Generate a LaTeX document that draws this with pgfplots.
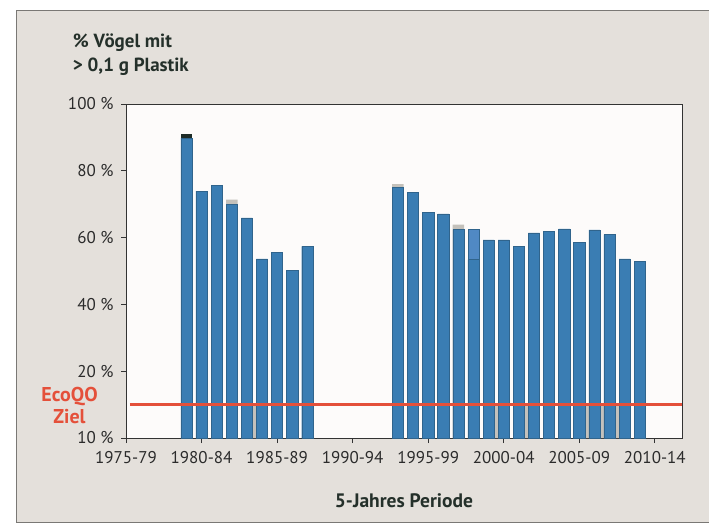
\documentclass[border=0pt]{standalone}
\usepackage{pgfplots}
\pgfplotsset{compat=1.18}
\usepackage{fontspec}
\setmainfont{PT Sans}
\definecolor{framebg}{HTML}{E4E0DB}
\definecolor{framebd}{HTML}{7A7875}
\definecolor{plotbg}{HTML}{FDFBFA}
\definecolor{barblue}{HTML}{3A7DB3}
\definecolor{baredge}{HTML}{30648C}
\definecolor{lightblue}{HTML}{5089C4}
\definecolor{capgrey}{HTML}{C4C1BB}
\definecolor{capdark}{HTML}{1E2B26}
\definecolor{ecored}{HTML}{E4503A}
\definecolor{titletext}{HTML}{24302A}
\definecolor{ticktext}{HTML}{2B2B2B}

\pgfplotstableread{
year val
1979 89.8
1980 73.9
1981 75.7
1982 70.0
1983 65.9
1984 53.6
1985 55.6
1986 50.1
1987 57.4
1993 75.0
1994 73.5
1995 67.6
1996 67.1
1997 62.4
1998 53.4
1999 59.3
2000 59.3
2001 57.3
2002 61.4
2003 61.9
2004 62.6
2005 58.6
2006 62.3
2007 60.9
2008 53.6
2009 52.9
}\bluedata

\pgfplotstableread{
year val
1982 71.4
1993 76.0
1997 63.9
}\greycaps

\pgfplotstableread{
year val
1979 91.1
}\darkcaps

\pgfplotstableread{
year val
1998 62.6
}\lightcaps

\pgfplotstableread{
year val
1983.5 10.1
1999.5 10.1
2001.5 10.1
2005.5 10.1
2006.5 10.1
2007.5 10.1
}\greystrips

\begin{document}
\begin{tikzpicture}[x=1pt,y=1pt]
\useasboundingbox (0,0) rectangle (709,525);
\fill[white] (0,0) rectangle (709,525);
\fill[framebg] (16,3) rectangle (709,514);
\draw[framebd, line width=1pt] (709,514) -- (16,514) -- (16,3) -- (709,3);

\begin{axis}[
  at={(126pt,87pt)}, anchor=south west,
  scale only axis, width=556pt, height=334pt,
  xmin=1975, xmax=2011.8, ymin=0, ymax=100,
  axis background/.style={fill=plotbg},
  axis line style={draw=black!80, line width=0.9pt},
  xtick={1975,1980,1985,1990,1995,2000,2005,2010},
  xticklabels={1975-79,1980-84,1985-89,1990-94,1995-99,2000-04,2005-09,2010-14},
  ytick={0,20,40,60,80,100},
  yticklabels={10 \%,20 \%,40 \%,60 \%,80 \%,100 \%},
  xtick pos=bottom, ytick pos=left,
  tick align=outside, major tick length=5pt,
  tick style={black!80, line width=0.8pt},
  ticklabel style={font=\fontsize{17}{17}\selectfont, text=ticktext},
  xticklabel style={yshift=-5pt},
  yticklabel style={xshift=-4pt},
  /pgf/number format/assume math mode=true,
  clip=false,
]
\addplot[ybar, bar width=0.42, bar shift=0pt, fill=capgrey, draw=none] table[x=year,y=val] {\greystrips};
\addplot[ybar, bar width=0.76, bar shift=0pt, fill=capgrey, draw=none] table[x=year,y=val] {\greycaps};
\addplot[ybar, bar width=0.76, bar shift=0pt, fill=capdark, draw=none] table[x=year,y=val] {\darkcaps};
\addplot[ybar, bar width=0.76, bar shift=0pt, fill=lightblue, draw=baredge, line width=0.4pt] table[x=year,y=val] {\lightcaps};
\addplot[ybar, bar width=0.74, bar shift=0pt, fill=barblue, draw=baredge, line width=0.4pt] table[x=year,y=val] {\bluedata};
\addplot[ecored, line width=3pt] coordinates {(1975.25,10.1) (2011.8,10.1)};
\end{axis}

\node[anchor=base west, font=\bfseries\fontsize{19}{19}\selectfont, text=titletext, inner sep=0] at (72.7,477) {\% Vögel mit};
\node[anchor=base west, font=\bfseries\fontsize{19}{19}\selectfont, text=titletext, inner sep=0] at (72.7,453.3) {> 0,1 g Plastik};
\node[anchor=base, font=\bfseries\fontsize{20}{20}\selectfont, text=ecored, inner sep=0] at (69.5,124) {EcoQO};
\node[anchor=base, font=\bfseries\fontsize{20}{20}\selectfont, text=ecored, inner sep=0] at (69.5,102) {Ziel};
\node[anchor=base, font=\bfseries\fontsize{19.5}{19.5}\selectfont, text=titletext, inner sep=0] at (404,17.3) {5-Jahres Periode};
\end{tikzpicture}
\end{document}
